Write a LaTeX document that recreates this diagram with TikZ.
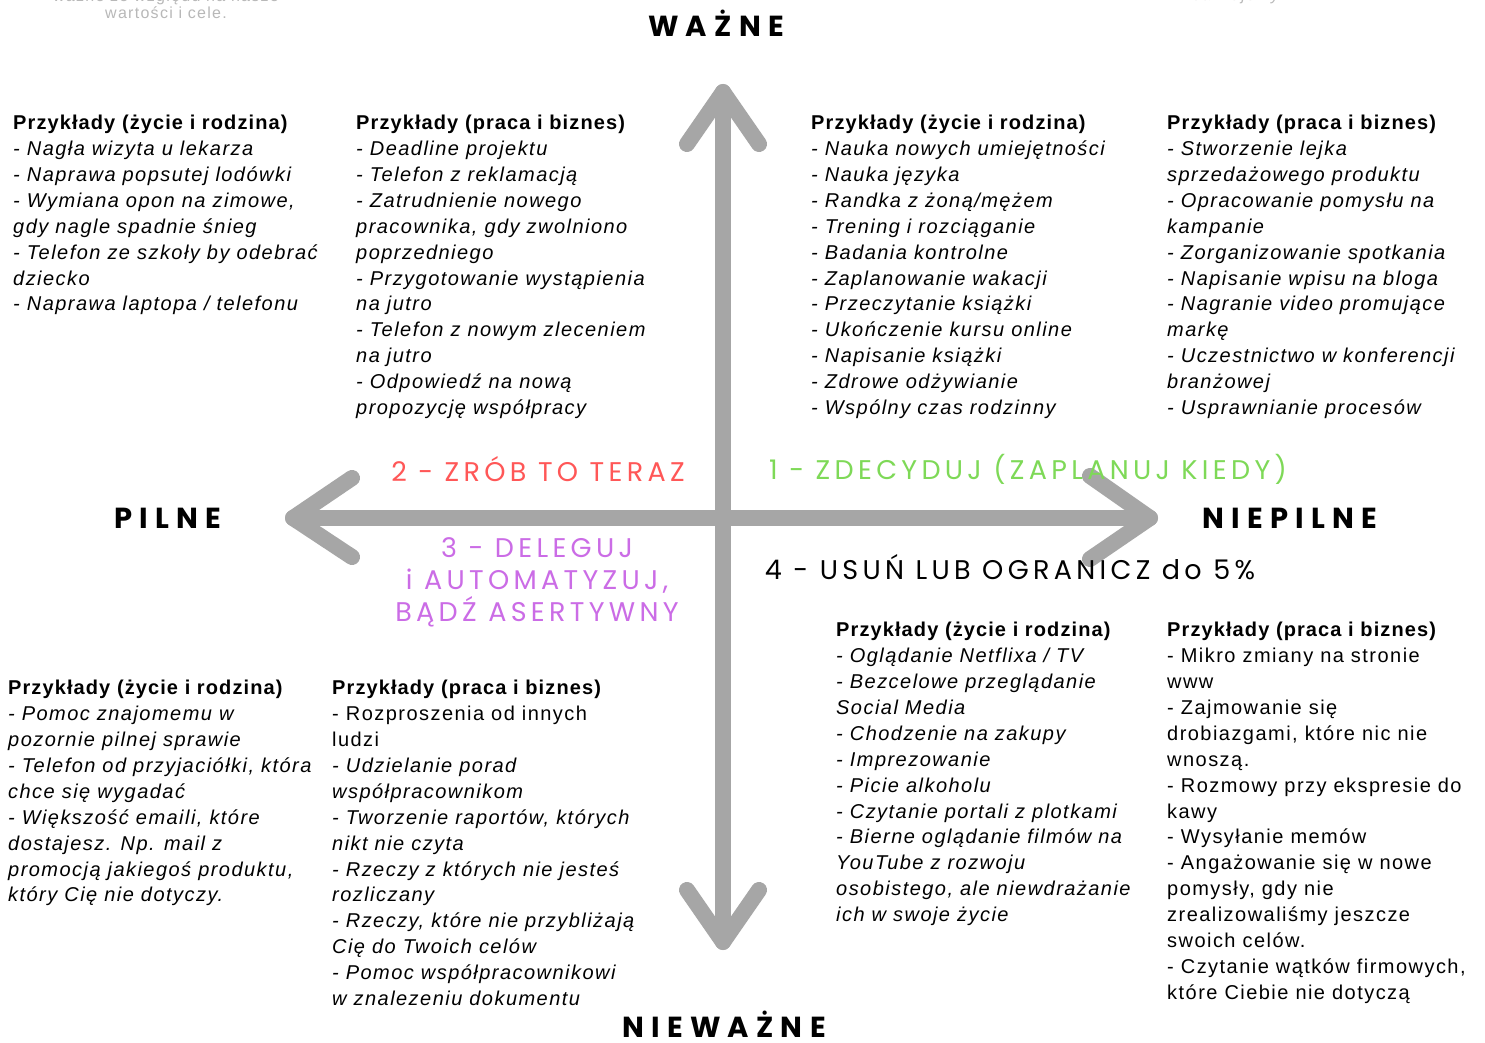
\documentclass[tikz,border=0pt]{standalone}
\usepackage{fontspec}
\setmainfont{Liberation Sans}
\newfontfamily\bodyfam[LetterSpace=7.3]{Liberation Sans}
\newfontfamily\headfam[LetterSpace=5.5]{Liberation Sans}
\newfontfamily\axisfam[LetterSpace=25]{Poppins}
\newfontfamily\quadfam[LetterSpace=16]{Poppins}
\newfontfamily\fadefam[LetterSpace=8]{Liberation Sans}
\definecolor{arrowgray}{HTML}{A6A6A6}
\definecolor{qred}{HTML}{FF5757}
\definecolor{qgreen}{HTML}{7ED957}
\definecolor{qpurple}{HTML}{CB6CE6}
\definecolor{fadegray}{HTML}{B8B8B8}
\newcommand\hd[1]{{\headfam\bfseries\upshape #1}}
\newcommand\up[1]{{\upshape #1}}
\tikzset{
  axisline/.style={draw=arrowgray, line width=16pt, line cap=round, line join=round},
  body/.style={anchor=north west, inner sep=0pt, align=left, text=black,
    font=\bodyfam\itshape\fontsize{20}{25.9}\selectfont},
  axislabel/.style={inner sep=0pt, text=black, font=\axisfam\bfseries\fontsize{29}{34}\selectfont},
  quadlabel/.style={inner sep=0pt, font=\quadfam\fontsize{27}{32}\selectfont},
  fade/.style={inner sep=0pt, text=fadegray, align=center, font=\fadefam\fontsize{16}{17}\selectfont},
}
\begin{document}
\begin{tikzpicture}[x=1pt,y=-1pt]
\useasboundingbox (0,0) rectangle (1485,1043);
\clip (0,0) rectangle (1485,1043);
\fill[white] (0,0) rectangle (1485,1043);

% faded cut-off texts
\node[fade, anchor=base] (fadeL) at (166,19) {ważne ze względu na nasze\\wartości i cele.};
\node[fade, anchor=base, font=\fadefam\itshape\fontsize{16}{17}\selectfont] (fadeR) at (1230,1) {zrealizujemy.};

% axes
\coordinate (c) at (723,518);
\coordinate (up) at (723,92);
\coordinate (down) at (723,942);
\coordinate (left) at (293,518);
\coordinate (right) at (1150,518);
\coordinate (upL) at (687,144);
\coordinate (upR) at (759,144);
\coordinate (dnL) at (687,890);
\coordinate (dnR) at (759,890);
\coordinate (lfU) at (352,478);
\coordinate (lfD) at (352,557);
\coordinate (rtU) at (1090,476);
\coordinate (rtD) at (1090,559);
\draw[axisline] (up) -- (down);
\draw[axisline] (left) -- (right);
\draw[axisline] (upL) -- (up) -- (upR);
\draw[axisline] (dnL) -- (down) -- (dnR);
\draw[axisline] (lfU) -- (left) -- (lfD);
\draw[axisline] (rtU) -- (right) -- (rtD);

% axis labels
\node[axislabel] (wazne) at (716,23) {WAŻNE};
\node[axislabel] (pilne) at (168,518) {PILNE};
\node[axislabel] (niepilne) at (1290,518) {NIEPILNE};
\node[axislabel, anchor=base, text depth=0pt] (niewazne) at (724,1037) {NIEWAŻNE};

% quadrant labels
\node[quadlabel, text=qred] (q2) at (538,469) {2 - ZRÓB TO TERAZ};
\node[quadlabel, text=qgreen] (q1) at (1028,469) {1 - ZDECYDUJ (ZAPLANUJ KIEDY)};
\node[quadlabel, text=qpurple, align=center, font=\quadfam\fontsize{27}{32}\selectfont] (q3) at (537,582) {3 - DELEGUJ\\i AUTOMATYZUJ,\\BĄDŹ ASERTYWNY};
\node[quadlabel, text=black] (q4) at (1010,567) {4 - USUŃ LUB OGRANICZ do 5\%};

% text blocks
\node[body] (tl1) at (13,115) {\hd{Przykłady (życie i rodzina)}\\
- Nagła wizyta u lekarza\\
- Naprawa popsutej lodówki\\
- Wymiana opon na zimowe,\\
gdy nagle spadnie śnieg\\
- Telefon ze szkoły by odebrać\\
dziecko\\
- Naprawa laptopa / telefonu};

\node[body] (tl2) at (356,115) {\hd{Przykłady (praca i biznes)}\\
- Deadline projektu\\
- Telefon z reklamacją\\
- Zatrudnienie nowego\\
pracownika, gdy zwolniono\\
poprzedniego\\
- Przygotowanie wystąpienia\\
na jutro\\
- Telefon z nowym zleceniem\\
na jutro\\
- Odpowiedź na nową\\
propozycję współpracy};

\node[body] (tr1) at (811,115) {\hd{Przykłady (życie i rodzina)}\\
- Nauka nowych umiejętności\\
- Nauka języka\\
- Randka z żoną/mężem\\
- Trening i rozciąganie\\
- Badania kontrolne\\
- Zaplanowanie wakacji\\
- Przeczytanie książki\\
- Ukończenie kursu online\\
- Napisanie książki\\
- Zdrowe odżywianie\\
- Wspólny czas rodzinny};

\node[body] (tr2) at (1167,115) {\hd{Przykłady (praca i biznes)}\\
- Stworzenie lejka\\
sprzedażowego produktu\\
- Opracowanie pomysłu na\\
kampanie\\
- Zorganizowanie spotkania\\
- Napisanie wpisu na bloga\\
- Nagranie video promujące\\
markę\\
- Uczestnictwo w konferencji\\
branżowej\\
- Usprawnianie procesów};

\node[body] (bl1) at (8,680) {\hd{Przykłady (życie i rodzina)}\\
- Pomoc znajomemu w\\
pozornie pilnej sprawie\\
- Telefon od przyjaciółki, która\\
chce się wygadać\\
- Większość emaili, które\\
dostajesz. Np. mail z\\
promocją jakiegoś produktu,\\
który Cię nie dotyczy.};

\node[body] (bl2) at (332,680) {\hd{Przykłady (praca i biznes)}\\
\up{- Rozproszenia od innych}\\
\up{ludzi}\\
- Udzielanie porad\\
współpracownikom\\
- Tworzenie raportów, których\\
nikt nie czyta\\
- Rzeczy z których nie jesteś\\
rozliczany\\
- Rzeczy, które nie przybliżają\\
Cię do Twoich celów\\
- Pomoc współpracownikowi\\
w znalezeniu dokumentu};

\node[body] (br1) at (836,622) {\hd{Przykłady (życie i rodzina)}\\
- Oglądanie Netflixa / TV\\
- Bezcelowe przeglądanie\\
Social Media\\
- Chodzenie na zakupy\\
- Imprezowanie\\
- Picie alkoholu\\
- Czytanie portali z plotkami\\
- Bierne oglądanie filmów na\\
YouTube z rozwoju\\
osobistego, ale niewdrażanie\\
ich w swoje życie};

\node[body] (br2) at (1167,622) {\hd{Przykłady (praca i biznes)}\\
\up{- Mikro zmiany na stronie}\\
\up{www}\\
\up{- Zajmowanie się}\\
\up{drobiazgami, które nic nie}\\
\up{wnoszą.}\\
\up{- Rozmowy przy ekspresie do}\\
\up{kawy}\\
\up{- Wysyłanie memów}\\
\up{- Angażowanie się w nowe}\\
\up{pomysły, gdy nie}\\
\up{zrealizowaliśmy jeszcze}\\
\up{swoich celów.}\\
\up{- Czytanie wątków firmowych,}\\
\up{które Ciebie nie dotyczą}};
\end{tikzpicture}
\end{document}
